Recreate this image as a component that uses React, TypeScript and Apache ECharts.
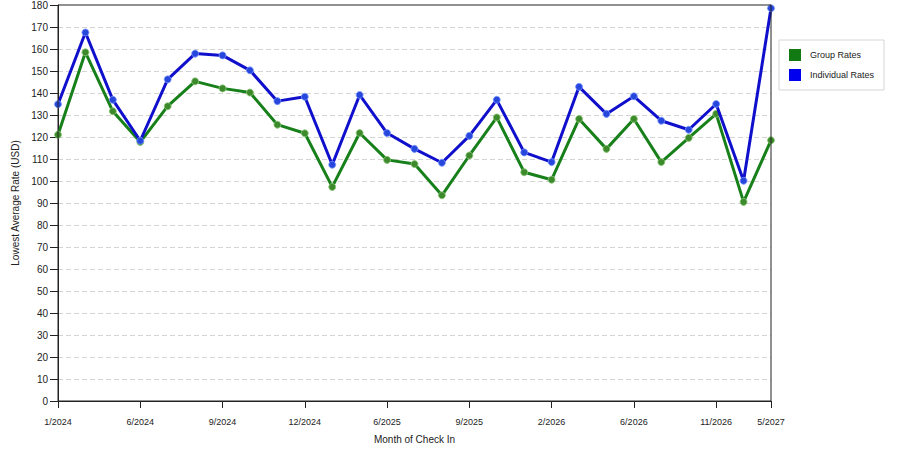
import * as React from "react";
import * as echarts from "echarts";

const months = [
  "1/2024", "3/2024", "4/2024", "6/2024", "7/2024", "8/2024", "9/2024",
  "10/2024", "11/2024", "12/2024", "2/2025", "4/2025", "6/2025", "7/2025",
  "8/2025", "9/2025", "10/2025", "12/2025", "2/2026", "3/2026", "5/2026",
  "6/2026", "8/2026", "9/2026", "11/2026", "2/2027", "5/2027",
];

const groupRates = [
  121, 158.5, 131.7, 117.7, 134, 145.3, 142.1, 140.2, 125.6, 121.7, 97.3,
  121.8, 109.6, 107.7, 93.5, 111.6, 128.9, 104, 100.6, 128.2, 114.6, 128.2,
  108.6, 119.6, 130.5, 90.5, 118.5,
];

const individualRates = [
  134.9, 167.5, 136.9, 118.3, 146.2, 157.9, 157.1, 150.3, 136.3, 138.3, 107.4,
  139.1, 121.8, 114.6, 108.3, 120.5, 136.9, 113, 108.6, 142.8, 130.5, 138.5,
  127.4, 123.3, 135, 100.1, 178.5,
];

const labelIndexes = [0, 3, 6, 9, 12, 15, 18, 21, 24, 26];

const font = "'Liberation Sans', Arial, sans-serif";

export default function App() {
  const chartRef = React.useRef<HTMLDivElement | null>(null);

  React.useEffect(() => {
    document.body.style.margin = "0";
    if (!chartRef.current) return;
    const chart = echarts.init(chartRef.current, null, { renderer: "svg" });
    const showLabel = (index: number) => labelIndexes.includes(index);

    chart.setOption({
      animation: false,
      backgroundColor: "#ffffff",
      textStyle: { fontFamily: font },
      grid: {
        left: 58,
        right: 129,
        top: 4,
        bottom: 49,
        show: true,
        borderColor: "#222",
        borderWidth: 1,
        z: 5,
      },
      legend: {
        orient: "vertical",
        left: 779,
        top: 40,
        padding: [9, 10, 9, 10],
        itemGap: 8,
        itemWidth: 12,
        itemHeight: 12,
        borderColor: "#d6d6d6",
        borderWidth: 1,
        textStyle: { fontSize: 9, color: "#222", fontFamily: font, padding: [0, 0, 0, 4] },
        data: [
          { name: "Group Rates", icon: "rect", itemStyle: { color: "#127a12", borderWidth: 0 } },
          { name: "Individual Rates", icon: "rect", itemStyle: { color: "#0000ee", borderWidth: 0 } },
        ],
      },
      xAxis: {
        type: "category",
        data: months,
        boundaryGap: false,
        name: "Month of Check In",
        nameLocation: "middle",
        nameGap: 33,
        nameTextStyle: { fontSize: 10, color: "#222", fontFamily: font },
        axisLine: { lineStyle: { color: "#222", width: 1 } },
        axisTick: { interval: showLabel, length: 7, lineStyle: { color: "#222" } },
        axisLabel: {
          interval: showLabel,
          fontSize: 9,
          color: "#222",
          margin: 16,
          fontFamily: font,
        },
        splitLine: { show: false },
      },
      yAxis: {
        type: "value",
        min: 0,
        max: 180,
        interval: 10,
        name: "Lowest Average Rate (USD)",
        nameLocation: "middle",
        nameGap: 36,
        nameTextStyle: { fontSize: 10, color: "#222", fontFamily: font },
        axisLine: { show: true, lineStyle: { color: "#222", width: 1 } },
        axisTick: { show: true, length: 8, lineStyle: { color: "#222" } },
        axisLabel: { fontSize: 10, color: "#222", margin: 10, fontFamily: font },
        splitLine: {
          showMinLine: false,
          showMaxLine: false,
          lineStyle: { color: "#d4d4d4", type: [5, 3], width: 1 },
        },
      },
      series: [
        {
          name: "Group Rates",
          type: "line",
          data: groupRates,
          symbol: "circle",
          symbolSize: 7,
          lineStyle: { color: "#18801a", width: 3 },
          itemStyle: {
            color: "#3d8a2c",
            borderColor: "rgba(140, 200, 120, 0.8)",
            borderWidth: 1,
          },
          z: 2,
        },
        {
          name: "Individual Rates",
          type: "line",
          data: individualRates,
          symbol: "circle",
          symbolSize: 7,
          lineStyle: { color: "#1010cc", width: 3 },
          itemStyle: {
            color: "#2747dc",
            borderColor: "rgba(120, 150, 255, 0.8)",
            borderWidth: 1,
          },
          z: 3,
        },
      ],
    });

    return () => {
      chart.dispose();
    };
  }, []);

  return <div ref={chartRef} style={{ width: 900, height: 450 }} />;
}
